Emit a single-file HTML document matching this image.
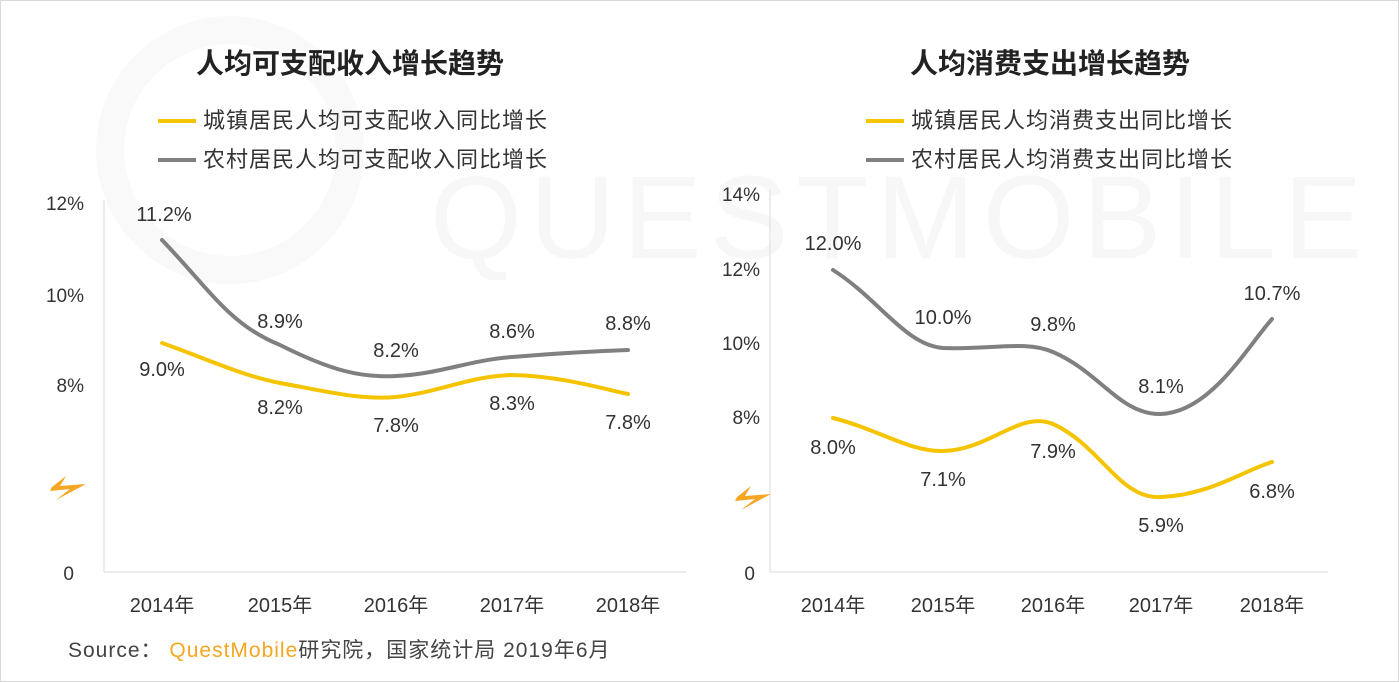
<!DOCTYPE html><html><head><meta charset="utf-8"><style>
body{margin:0;background:#fff}
svg{display:block;font-family:"Liberation Sans","Noto Sans CJK SC",sans-serif}
</style></head><body>
<svg width="1399" height="682" viewBox="0 0 1399 682">
<rect x="0.5" y="0.5" width="1398" height="681" fill="#fff" stroke="#d8d8d8"/>
<text x="430" y="258" font-size="118" fill="#f7f7f7" letter-spacing="8" font-family="Liberation Sans,sans-serif">QUESTMOBILE</text>
<circle cx="230" cy="150" r="120" fill="none" stroke="#f9f9f9" stroke-width="28"/>
<g font-size="28" font-weight="bold" fill="#222" text-anchor="middle">
<text x="350" y="73">人均可支配收入增长趋势</text>
<text x="1050" y="73">人均消费支出增长趋势</text></g>
<g stroke-width="4" fill="none">
<line x1="158" y1="121" x2="196" y2="121" stroke="#f5c400"/><line x1="158" y1="160" x2="196" y2="160" stroke="#808080"/>
<line x1="866" y1="121" x2="904" y2="121" stroke="#f5c400"/><line x1="866" y1="160" x2="904" y2="160" stroke="#808080"/></g>
<g font-size="22" fill="#333" letter-spacing="1">
<text x="203" y="128">城镇居民人均可支配收入同比增长</text><text x="203" y="167">农村居民人均可支配收入同比增长</text>
<text x="911" y="128">城镇居民人均消费支出同比增长</text><text x="911" y="167">农村居民人均消费支出同比增长</text></g>
<g stroke="#e6e6e6" stroke-width="1.5">
<line x1="104" y1="200" x2="104" y2="572"/><line x1="104" y1="572" x2="686" y2="572"/>
<line x1="770" y1="190" x2="770" y2="572"/><line x1="770" y1="572" x2="1328" y2="572"/></g>
<g font-size="19" fill="#333" text-anchor="end">
<text x="84" y="210">12%</text><text x="84" y="302">10%</text><text x="84" y="392">8%</text><text x="74" y="580">0</text>
<text x="760" y="201">14%</text><text x="760" y="276">12%</text><text x="760" y="350">10%</text><text x="760" y="424">8%</text><text x="755" y="580">0</text></g>
<g fill="#f5a623"><polygon points="52,487 66,476 60,486 86,484 56,500 70,489 50,491"/><polygon points="737,497 751,486 745,496 771,494 741,510 755,499 735,501"/></g>
<g font-size="20" fill="#333" text-anchor="middle">
<text x="162" y="612">2014年</text><text x="280" y="612">2015年</text><text x="396" y="612">2016年</text><text x="512" y="612">2017年</text><text x="628" y="612">2018年</text>
<text x="833" y="612">2014年</text><text x="943" y="612">2015年</text><text x="1053" y="612">2016年</text><text x="1161" y="612">2017年</text><text x="1272" y="612">2018年</text></g>
<g fill="none" stroke-width="4" stroke-linecap="round">
<path d="M162,240 C210,290 230,325 280,345 C330,370 360,378 396,376 C440,374 470,360 512,357 C560,353 600,351 628,350" stroke="#808080"/>
<path d="M162,343 C210,360 240,375 280,383 C330,392 360,400 396,397 C440,392 470,376 512,375 C560,376 600,388 628,394" stroke="#f5c400"/>
<path d="M833,270 C880,300 905,345 943,348 C990,350 1025,340 1053,352 C1100,372 1120,415 1161,414 C1210,412 1245,350 1272,319" stroke="#808080"/>
<path d="M833,418 C880,430 910,452 943,451 C990,450 1020,410 1053,424 C1100,445 1120,500 1161,497 C1210,495 1245,470 1272,462" stroke="#f5c400"/></g>
<g font-size="20" fill="#333" text-anchor="middle">
<text x="164" y="221">11.2%</text><text x="280" y="328">8.9%</text><text x="396" y="357">8.2%</text><text x="512" y="338">8.6%</text><text x="628" y="330">8.8%</text>
<text x="162" y="376">9.0%</text><text x="280" y="414">8.2%</text><text x="396" y="432">7.8%</text><text x="512" y="410">8.3%</text><text x="628" y="429">7.8%</text>
<text x="833" y="250">12.0%</text><text x="943" y="324">10.0%</text><text x="1053" y="331">9.8%</text><text x="1161" y="393">8.1%</text><text x="1272" y="300">10.7%</text>
<text x="833" y="454">8.0%</text><text x="943" y="486">7.1%</text><text x="1053" y="458">7.9%</text><text x="1161" y="532">5.9%</text><text x="1272" y="498">6.8%</text></g>
<text x="68" y="657" font-size="21" fill="#444" letter-spacing="1">Source： <tspan fill="#f5a623">QuestMobile</tspan>研究院，国家统计局 2019年6月</text>
</svg></body></html>
